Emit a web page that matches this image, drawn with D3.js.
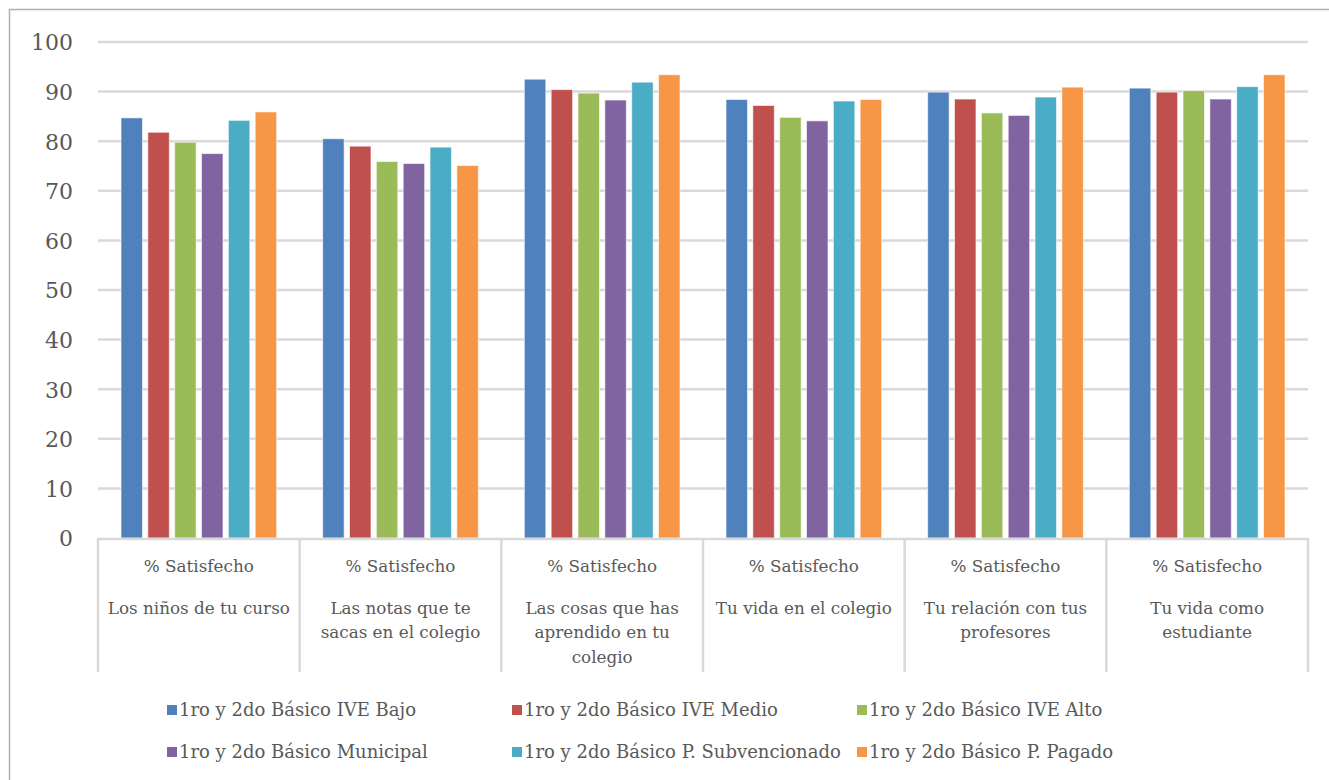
<!DOCTYPE html>
<html>
<head>
<meta charset="utf-8">
<script src="https://cdn.jsdelivr.net/npm/d3@7"></script>
<style>
  html, body { margin: 0; padding: 0; background: #fff; }
  svg { display: block; }
  text { font-family: "DejaVu Serif", "Liberation Serif", serif; fill: #595959; }
</style>
</head>
<body>
<svg id="chart" width="1329" height="780"></svg>
<script>
const categories = [
  ["% Satisfecho", "Los niños de tu curso"],
  ["% Satisfecho", "Las notas que te", "sacas en el colegio"],
  ["% Satisfecho", "Las cosas que has", "aprendido en tu", "colegio"],
  ["% Satisfecho", "Tu vida en el colegio"],
  ["% Satisfecho", "Tu relación con tus", "profesores"],
  ["% Satisfecho", "Tu vida como", "estudiante"]
];
const seriesNames = [
  "1ro y 2do Básico IVE Bajo",
  "1ro y 2do Básico IVE Medio",
  "1ro y 2do Básico IVE Alto",
  "1ro y 2do Básico Municipal",
  "1ro y 2do Básico P. Subvencionado",
  "1ro y 2do Básico P. Pagado"
];
const seriesColors = ["#4F81BD", "#C0504D", "#9BBB59", "#8064A2", "#4BACC6", "#F79646"];
const ivBajo      = [84.7, 80.5, 92.5, 88.4, 89.9, 90.7];
const ivMedio     = [81.8, 79.0, 90.4, 87.2, 88.5, 89.9];
const ivAlto      = [79.8, 75.9, 89.7, 84.8, 85.7, 90.2];
const municipal   = [77.5, 75.5, 88.3, 84.1, 85.2, 88.5];
const subvencion  = [84.2, 78.8, 91.9, 88.1, 88.9, 91.0];
const pagado      = [85.9, 75.1, 93.4, 88.4, 90.9, 93.4];
const seriesValues = [ivBajo, ivMedio, ivAlto, municipal, subvencion, pagado];
const yTicks = [0, 10, 20, 30, 40, 50, 60, 70, 80, 90, 100];

(function () {
const svg = d3.select("#chart");
const pLeft = 98, pRight = 1308, pTop = 42, pBottom = 538;
const fontFam = '"DejaVu Serif", "Liberation Serif", serif';

// outer border
svg.append("rect").attr("x", 9.5).attr("y", 9.5).attr("width", 1340).attr("height", 800)
  .attr("fill", "none").attr("stroke", "#B0B0B0").attr("stroke-width", 1.5);

const y = d3.scaleLinear().domain([0, 100]).range([pBottom, pTop]);
const x0 = d3.scaleBand().domain(d3.range(categories.length)).range([pLeft, pRight])
  .paddingInner(0).paddingOuter(0);
const x1 = d3.scaleBand().domain(d3.range(seriesNames.length))
  .range([23, x0.bandwidth() - 23]).paddingInner(0.2).paddingOuter(0);

// gridlines
svg.append("g").selectAll("line").data(yTicks.filter(t => t > 0)).join("line")
  .attr("x1", pLeft).attr("x2", pRight)
  .attr("y1", d => y(d)).attr("y2", d => y(d))
  .attr("stroke", "#D9D9D9").attr("stroke-width", 2.5);

// y axis labels
const yAxis = d3.axisLeft(y).tickValues(yTicks).tickSize(0).tickPadding(0);
const yg = svg.append("g").attr("transform", `translate(73,0)`).call(yAxis);
yg.select(".domain").remove();
yg.selectAll("text").attr("font-size", 22).attr("fill", "#595959")
  .style("font-family", fontFam).attr("dy", "0.36em");

// bars
const groups = svg.append("g").selectAll("g").data(categories).join("g")
  .attr("transform", (d, i) => `translate(${x0(i)},0)`);
groups.selectAll("rect").data((d, i) => seriesValues.map((s, k) => ({ k, v: s[i] }))).join("rect")
  .attr("x", d => x1(d.k)).attr("width", x1.bandwidth())
  .attr("y", d => y(d.v)).attr("height", d => pBottom - y(d.v))
  .attr("fill", d => seriesColors[d.k])
  .attr("stroke", "#ffffff").attr("stroke-opacity", 0.6).attr("stroke-width", 1);

// category axis: baseline and dividers
const axisBottom = 672;
svg.append("line").attr("x1", pLeft).attr("x2", pRight).attr("y1", pBottom + 1).attr("y2", pBottom + 1)
  .attr("stroke", "#D9D9D9").attr("stroke-width", 2.5);
svg.append("g").selectAll("line").data(d3.range(categories.length + 1)).join("line")
  .attr("x1", i => i < categories.length ? x0(i) : pRight)
  .attr("x2", i => i < categories.length ? x0(i) : pRight)
  .attr("y1", pBottom).attr("y2", axisBottom)
  .attr("stroke", "#D9D9D9").attr("stroke-width", 2.5);

// category labels
const lineYs = [566, 608, 632, 657];
const catG = svg.append("g").selectAll("text").data(categories).join("text")
  .attr("text-anchor", "middle").attr("font-size", 16.8)
  .attr("x", (d, i) => x0(i) + x0.bandwidth() / 2);
catG.selectAll("tspan").data(d => d).join("tspan")
  .attr("x", function () { return d3.select(this.parentNode).attr("x"); })
  .attr("y", (d, j) => lineYs[j]).attr("dy", "0.36em")
  .text(d => d);

// legend
const legX = [167, 512, 857];
const legY = [710, 752];
const leg = svg.append("g").selectAll("g").data(seriesNames).join("g")
  .attr("transform", (d, i) => `translate(${legX[i % 3]},${legY[Math.floor(i / 3)]})`);
leg.append("rect").attr("x", 0).attr("y", -5).attr("width", 10).attr("height", 10)
  .attr("fill", (d, i) => seriesColors[i]);
leg.append("text").attr("x", 12).attr("y", 0).attr("dy", "0.36em")
  .attr("font-size", 18).text(d => d);
})();
</script>
</body>
</html>
